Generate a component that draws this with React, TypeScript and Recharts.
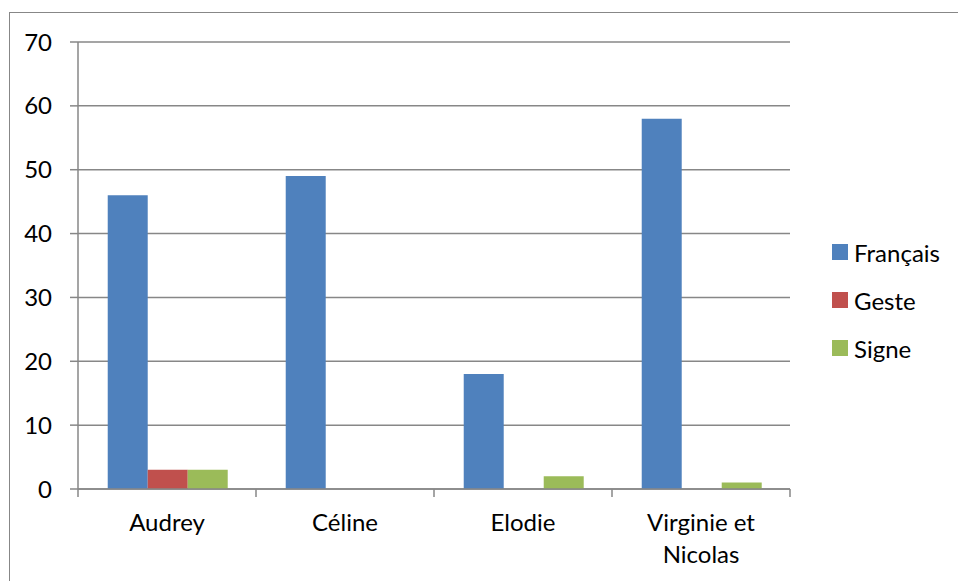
import React from 'react';
import { BarChart, Bar, XAxis, YAxis, CartesianGrid } from 'recharts';

const categories = ['Audrey', 'Céline', 'Elodie', 'Virginie et Nicolas'];
const francais = [46, 49, 18, 58];
const geste = [3, 0, 0, 0];
const signe = [3, 0, 2, 1];
const yTicks = [0, 10, 20, 30, 40, 50, 60, 70];

const series = [
  { key: 'francais', name: 'Français', color: '#4F81BD', values: francais },
  { key: 'geste', name: 'Geste', color: '#C0504D', values: geste },
  { key: 'signe', name: 'Signe', color: '#9BBB59', values: signe },
];

const data = categories.map((name, i) => {
  const row: Record<string, string | number> = { name };
  series.forEach((s) => {
    row[s.key] = s.values[i];
  });
  return row;
});

const FONT = 'Lato, "Open Sans", sans-serif';
const GRID = '#878787';

// naive word wrap for long category names
const wrap = (label: string, max = 12) => {
  const lines: string[] = [];
  let cur = '';
  label.split(' ').forEach((w) => {
    const next = cur ? cur + ' ' + w : w;
    if (next.length > max && cur) {
      lines.push(cur);
      cur = w;
    } else {
      cur = next;
    }
  });
  if (cur) lines.push(cur);
  return lines;
};

// label + tick marks on the category boundaries (Excel style)
const CategoryTick = (props: any) => {
  const { x, y, payload, index, visibleTicksCount } = props;
  const half = payload.offset || 0;
  const lines = wrap(String(payload.value));
  const top = y - 16; // axis line position (y includes tickSize + tickMargin)
  return (
    <g>
      <line x1={x - half} x2={x - half} y1={top} y2={top + 8} stroke={GRID} strokeWidth={1.5} />
      {index === visibleTicksCount - 1 && (
        <line x1={x + half} x2={x + half} y1={top} y2={top + 8} stroke={GRID} strokeWidth={1.5} />
      )}
      <text x={x} y={y} textAnchor="middle" fill="#000" fontSize={24} fontFamily={FONT}>
        {lines.map((l, i) => (
          <tspan key={i} x={x} dy={i === 0 ? 26 : 32}>
            {l}
          </tspan>
        ))}
      </text>
    </g>
  );
};

export default function App() {
  return (
    <div style={{ position: 'absolute', left: 0, top: 0, width: 958, height: 581, background: '#fff', overflow: 'hidden' }}>
      <div
        style={{
          position: 'absolute',
          left: 9,
          top: 12,
          width: 960,
          height: 600,
          borderLeft: '1.5px solid #878787',
          borderTop: '1.5px solid #878787',
        }}
      />
      <BarChart
        width={958}
        height={581}
        data={data}
        margin={{ top: 42, right: 168, bottom: 0, left: 0 }}
        barCategoryGap="16.7%"
        barGap={0}
        style={{ position: 'absolute', left: 0, top: 0 }}
      >
        <CartesianGrid vertical={false} stroke={GRID} strokeWidth={1.5} />
        <XAxis
          dataKey="name"
          height={92}
          axisLine={{ stroke: GRID, strokeWidth: 1.5 }}
          tickLine={false}
          tickSize={8}
          tickMargin={8}
          tick={<CategoryTick />}
          interval={0}
        />
        <YAxis
          domain={[0, 70]}
          ticks={yTicks}
          width={78}
          axisLine={{ stroke: GRID, strokeWidth: 1.5 }}
          tickLine={{ stroke: GRID, strokeWidth: 1.5 }}
          tickSize={8}
          tickMargin={18}
          tick={{ fill: '#000', fontSize: 24, fontFamily: FONT }}
          interval={0}
        />
        {series.map((s) => (
          <Bar key={s.key} dataKey={s.key} name={s.name} fill={s.color} isAnimationActive={false} />
        ))}
      </BarChart>
      <div style={{ position: 'absolute', left: 832, top: 236, fontFamily: FONT, fontSize: 24, color: '#000' }}>
        {series.map((s) => (
          <div key={s.key} style={{ display: 'flex', alignItems: 'center', height: 32, marginBottom: 16 }}>
            <span style={{ display: 'inline-block', width: 16, height: 16, background: s.color, marginRight: 6 }} />
            <span>{s.name}</span>
          </div>
        ))}
      </div>
    </div>
  );
}
